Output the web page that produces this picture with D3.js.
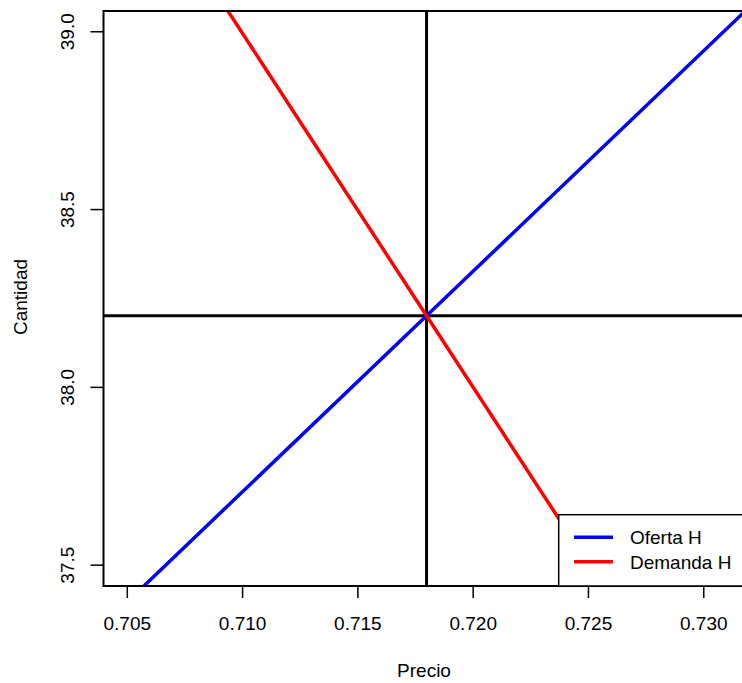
<!DOCTYPE html>
<html>
<head>
<meta charset="utf-8">
<script src="https://cdn.jsdelivr.net/npm/d3@7"></script>
<style>
  body { margin: 0; background: #fff; }
  text { font-family: "Liberation Sans", Arial, sans-serif; font-size: 19px; fill: #000; }
</style>
</head>
<body>
<svg id="chart" width="742" height="683"></svg>
<script>
// data
const ofertaPrecio = [0.703, 0.718, 0.733];
const ofertaCantidad = [37.27, 38.2, 39.13];
const demandaPrecio = [0.708, 0.718, 0.728];
const demandaCantidad = [39.195, 38.2, 37.205];
const equilibrioPrecio = 0.718;
const equilibrioCantidad = 38.2;
const xTicks = [0.705, 0.710, 0.715, 0.720, 0.725, 0.730];
const yTicks = [37.5, 38.0, 38.5, 39.0];
const seriesNames = ['Oferta H', 'Demanda H'];
const seriesColors = ['#0000ff', '#ff0000'];

const plotLeft = 103.5, plotRight = 748, plotTop = 11, plotBottom = 586;

const svg = d3.select('#chart');

const x = d3.scaleLinear().domain([0.70399, 0.73194]).range([plotLeft, plotRight]);
const y = d3.scaleLinear().domain([37.44, 39.057]).range([plotBottom, plotTop]);

svg.append('clipPath')
  .attr('id', 'plot-clip')
  .append('rect')
  .attr('x', plotLeft)
  .attr('y', plotTop)
  .attr('width', plotRight - plotLeft)
  .attr('height', plotBottom - plotTop);

// axes
const xAxis = svg.append('g')
  .attr('transform', `translate(0,${plotBottom})`)
  .call(d3.axisBottom(x).tickValues(xTicks).tickFormat(d3.format('.3f')).tickSize(12).tickSizeOuter(0));
xAxis.select('.domain').remove();
xAxis.selectAll('line').attr('stroke', '#000').attr('stroke-width', 1.5);
xAxis.selectAll('text')
  .attr('y', 0)
  .attr('dy', 0)
  .attr('transform', 'translate(0,44)')
  .style('font-size', '19px')
  .style('font-family', '"Liberation Sans", Arial, sans-serif');

const yAxis = svg.append('g')
  .attr('transform', `translate(${plotLeft},0)`)
  .call(d3.axisLeft(y).tickValues(yTicks).tickFormat(d3.format('.1f')).tickSize(13).tickSizeOuter(0));
yAxis.select('.domain').remove();
yAxis.selectAll('line').attr('stroke', '#000').attr('stroke-width', 1.5);
yAxis.selectAll('text')
  .attr('x', 0)
  .attr('dy', 0)
  .attr('text-anchor', 'middle')
  .attr('transform', 'translate(-30,0) rotate(-90)')
  .style('font-size', '19px')
  .style('font-family', '"Liberation Sans", Arial, sans-serif');

// axis titles
svg.append('text')
  .attr('x', 424)
  .attr('y', 677)
  .attr('text-anchor', 'middle')
  .text('Precio');

svg.append('text')
  .attr('transform', 'translate(27,297) rotate(-90)')
  .attr('text-anchor', 'middle')
  .text('Cantidad');

const plot = svg.append('g').attr('clip-path', 'url(#plot-clip)');

const line = d3.line().x(d => x(d[0])).y(d => y(d[1]));

// equilibrium lines
plot.append('line')
  .attr('x1', x(equilibrioPrecio)).attr('x2', x(equilibrioPrecio))
  .attr('y1', plotTop).attr('y2', plotBottom)
  .attr('stroke', '#000').attr('stroke-width', 3);
plot.append('line')
  .attr('x1', plotLeft).attr('x2', plotRight)
  .attr('y1', y(equilibrioCantidad)).attr('y2', y(equilibrioCantidad))
  .attr('stroke', '#000').attr('stroke-width', 3);

plot.append('path')
  .datum(ofertaPrecio.map((p, i) => [p, ofertaCantidad[i]]))
  .attr('d', line)
  .attr('fill', 'none')
  .attr('stroke', seriesColors[0])
  .attr('stroke-width', 3.5);

plot.append('path')
  .datum(demandaPrecio.map((p, i) => [p, demandaCantidad[i]]))
  .attr('d', line)
  .attr('fill', 'none')
  .attr('stroke', seriesColors[1])
  .attr('stroke-width', 3.5);

// plot box
svg.append('rect')
  .attr('x', plotLeft)
  .attr('y', plotTop)
  .attr('width', plotRight - plotLeft)
  .attr('height', plotBottom - plotTop)
  .attr('fill', 'none')
  .attr('stroke', '#000')
  .attr('stroke-width', 2);

// legend, bottom right
const legend = svg.append('g');
legend.append('rect')
  .attr('x', 558.7)
  .attr('y', 514.7)
  .attr('width', plotRight - 558.7)
  .attr('height', plotBottom - 514.7)
  .attr('fill', '#fff')
  .attr('stroke', '#000')
  .attr('stroke-width', 1.5);

seriesNames.forEach((name, i) => {
  let ly = 537.3 + i * 24.4;
  legend.append('line')
    .attr('x1', 574).attr('x2', 613)
    .attr('y1', ly).attr('y2', ly)
    .attr('stroke', seriesColors[i])
    .attr('stroke-width', 3.5);
  legend.append('text')
    .attr('x', 630)
    .attr('y', ly + 7)
    .text(name);
});
</script>
</body>
</html>
